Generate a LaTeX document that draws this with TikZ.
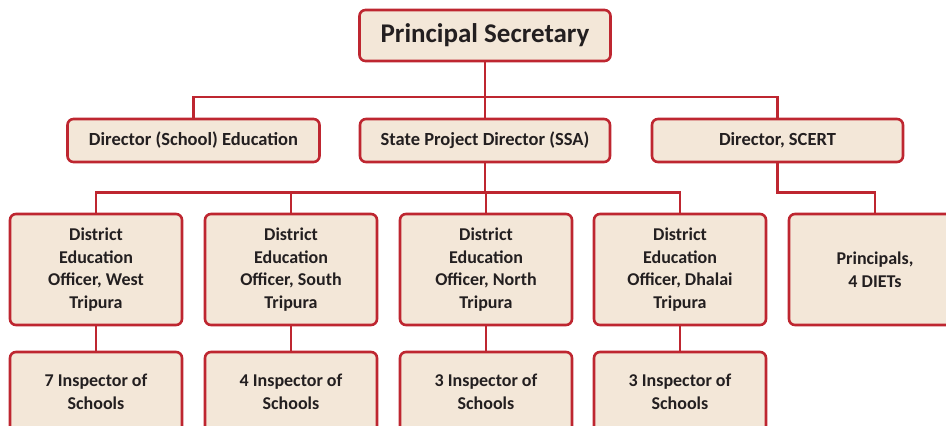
\documentclass[tikz,border=0pt]{standalone}
\usepackage{fontspec}
\setmainfont{Carlito}
\definecolor{boxred}{RGB}{190,38,48}
\definecolor{boxfill}{RGB}{243,231,216}
\definecolor{txt}{RGB}{35,31,32}
\tikzset{
  orgbox/.style={draw=boxred, fill=boxfill, line width=2.6pt, rounded corners=6pt,
    text=txt, font=\bfseries\fontsize{18}{22.5}\selectfont, align=center,
    inner sep=0pt},
  topbox/.style={orgbox, minimum width=251pt, minimum height=51pt,
    font=\bfseries\fontsize{27}{30}\selectfont},
  midbox/.style={orgbox, minimum width=252pt, minimum height=43pt,
    font=\bfseries\fontsize{18.5}{22.5}\selectfont},
  distbox/.style={orgbox, minimum width=172pt, minimum height=111pt},
  inspbox/.style={orgbox, minimum width=172pt, minimum height=80pt},
  link/.style={draw=boxred, line width=2.6pt}
}
\begin{document}
\begin{tikzpicture}[x=1pt,y=-1pt]
\useasboundingbox (0,0) rectangle (946,426);
\clip (0,0) rectangle (946,426);

% bus junctions
\coordinate (busA) at (485,97);
\coordinate (busB) at (485,192.5);

% top level
\node[topbox] (ps) at (485,35.5) {Principal Secretary};

% directors
\node[midbox] (dse) at (193.5,140.5) {Director (School) Education};
\node[midbox, minimum width=250pt] (spd) at (485,140.5) {State Project Director (SSA)};
\node[midbox, minimum width=251pt] (scert) at (777.5,140.5) {Director, SCERT};

% district officers
\node[distbox] (west) at (96,269.5) {District\\Education\\Officer, West\\Tripura};
\node[distbox] (south) at (291,269.5) {District\\Education\\Officer, South\\Tripura};
\node[distbox] (north) at (486,269.5) {District\\Education\\Officer, North\\Tripura};
\node[distbox] (dhalai) at (680,269.5) {District\\Education\\Officer, Dhalai\\Tripura};
\node[distbox] (diet) at (875,269.5) {Principals,\\4 DIETs};

% inspectors
\node[inspbox] (iwest) at (96,392) {7 Inspector of\\Schools};
\node[inspbox] (isouth) at (291,392) {4 Inspector of\\Schools};
\node[inspbox] (inorth) at (486,392) {3 Inspector of\\Schools};
\node[inspbox] (idhalai) at (680,392) {3 Inspector of\\Schools};

% tree links
\draw[link] (ps.south) -- (busA);
\draw[link] (busA) -| (dse.north);
\draw[link] (busA) -| (scert.north);
\draw[link] (busA) -- (spd.north);
\draw[link] (spd.south) -- (busB);
\draw[link] (busB) -| (west.north);
\draw[link] (busB) -| (south.north);
\draw[link] (busB) -| (north.north);
\draw[link] (busB) -| (dhalai.north);
\draw[link] (scert.south) |- (diet.north |- busB) -- (diet.north);
\draw[link] (west.south) -- (iwest.north);
\draw[link] (south.south) -- (isouth.north);
\draw[link] (north.south) -- (inorth.north);
\draw[link] (dhalai.south) -- (idhalai.north);
\end{tikzpicture}
\end{document}
